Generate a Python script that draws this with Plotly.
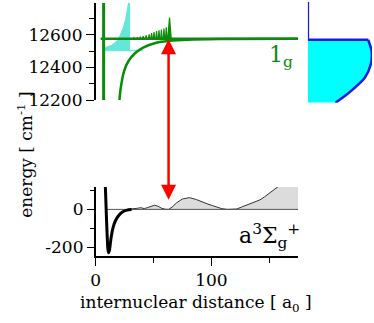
import plotly.graph_objects as go

# ---- data ----
# a3Sigma_g+ potential (bottom panel)
r_a3 = [8.3, 8.7, 9.1, 9.6, 10.0, 10.5, 11.1, 11.8, 12.5, 13.5, 15.0, 17.0, 19.5, 23.0, 27.0, 31.0]
E_a3 = [118, 50, -20, -100, -157, -210, -229, -215, -185, -140, -95, -60, -35, -14, -4, -1]

# grey filled curve (bottom panel)
r_bar = [28, 33, 36, 39, 42, 45, 48, 51, 54, 57, 60, 63, 66, 70, 75, 81, 87, 92, 97, 101,
         105, 109, 114, 118, 122, 126, 130, 134, 138, 142, 146, 150, 154, 158, 162, 175]
E_bar = [0, 2, 6, 9, 4, 10, 18, 22, 16, 6, 1, 0, 12, 35, 55, 62, 52, 39, 28, 20,
         11, 4, 0, 0, 2, 12, 22, 31, 39, 50, 66, 85, 105, 125, 150, 200]
bottom_ticks = [-200, 0]
bottom_labels = ["-200", "0"]

# 1g potential (top panel)
r_wall = [6.8, 6.8]
E_wall = [12150, 12850]
r_1g = [20.5, 21.7, 24.5, 28.2, 33.9, 41, 52.4, 63.8, 80, 110, 175]
E_1g = [12200, 12279, 12378, 12438, 12487, 12521, 12551, 12563, 12570, 12574, 12576]
E_level = 12576
r_level = [4.3, 175]

# green spikes sitting on the 1g level
r_peaks = [30, 33, 36, 38.5, 41, 43.6, 46.2, 48.3, 50.4, 52.6, 54.7, 56.8, 59, 61, 63.8]
E_peaks = [12580, 12582, 12585, 12588, 12592, 12597, 12603, 12610, 12616, 12622,
           12627, 12632, 12638, 12645, 12705]

# turquoise state
E_cyan = 12503
r_cyan_line = [6.8, 41]
r_cyan = [6.8, 8.2, 13.9, 18.2, 21.1, 23.9, 25.9, 27.6, 28.8, 29.7]
E_cyan_top = [12515, 12521, 12536, 12560, 12596, 12646, 12695, 12754, 12814, 12814]

# right-hand profile: step (vertical + horizontal) then the curved tail
step_x = [0, 0, 0.94]
step_E = [12850, 12570, 12570]
tail_x = [0.94, 0.995, 0.98, 0.89, 0.71, 0.56, 0.43]
tail_E = [12570, 12497, 12418, 12339, 12269, 12220, 12184]

arrow_r = 63
FONT = "DejaVu Serif"
GREEN = "#0a8c0a"
BLUE = "#1a1ae0"

W, H = 374, 323


def fx(p):
    return p / W


def fy(p):
    return 1 - p / H


fig = go.Figure()

# ---- bottom panel ----
fig.add_trace(go.Scatter(x=r_bar, y=E_bar, mode="lines", fill="tozeroy",
                         fillcolor="#dcdcdc", line=dict(color="#333333", width=1),
                         xaxis="x", yaxis="y"))
fig.add_trace(go.Scatter(x=[r_a3[0], 175], y=[0, 0], mode="lines",
                         line=dict(color="#555555", width=1), xaxis="x", yaxis="y"))
fig.add_trace(go.Scatter(x=r_a3, y=E_a3, mode="lines", line=dict(color="black", width=3, shape="spline"),
                         xaxis="x", yaxis="y"))

# ---- top panel ----
# turquoise filled state
fig.add_trace(go.Scatter(x=r_cyan, y=[E_cyan] * len(r_cyan), mode="lines",
                         line=dict(color="rgba(0,0,0,0)", width=0), xaxis="x2", yaxis="y2"))
fig.add_trace(go.Scatter(x=r_cyan, y=E_cyan_top, mode="lines", fill="tonexty",
                         fillcolor="rgba(64,224,208,0.8)", line=dict(color="#60e4d8", width=1),
                         xaxis="x2", yaxis="y2"))
fig.add_trace(go.Scatter(x=r_cyan_line, y=[E_cyan, E_cyan], mode="lines",
                         line=dict(color="#70e6dc", width=1.5), xaxis="x2", yaxis="y2"))

# spikes
sx, sy = [r_level[0]], [E_level]
for i, (r, e) in enumerate(zip(r_peaks, E_peaks)):
    w = 1.5 if i == len(r_peaks) - 1 else 0.6
    sx += [r - w, r, r + w]
    sy += [E_level, e, E_level]
sx.append(r_level[1])
sy.append(E_level)
fig.add_trace(go.Scatter(x=sx, y=sy, mode="lines", fill="toself", fillcolor=GREEN,
                         line=dict(color=GREEN, width=1.2), xaxis="x2", yaxis="y2"))
fig.add_trace(go.Scatter(x=r_level, y=[E_level, E_level], mode="lines",
                         line=dict(color=GREEN, width=2.5), xaxis="x2", yaxis="y2"))
fig.add_trace(go.Scatter(x=r_wall, y=E_wall, mode="lines",
                         line=dict(color=GREEN, width=3), xaxis="x2", yaxis="y2"))
fig.add_trace(go.Scatter(x=r_1g, y=E_1g, mode="lines",
                         line=dict(color=GREEN, width=2.5, shape="spline"), xaxis="x2", yaxis="y2"))

# ---- right profile ----
fig.add_trace(go.Scatter(x=step_x + tail_x[1:], y=step_E + tail_E[1:], mode="lines",
                         fill="tozerox", fillcolor="#00ffff", line=dict(width=0),
                         xaxis="x3", yaxis="y3"))
fig.add_trace(go.Scatter(x=step_x, y=step_E, mode="lines", line=dict(color=BLUE, width=2.5),
                         xaxis="x3", yaxis="y3"))
fig.add_trace(go.Scatter(x=tail_x, y=tail_E, mode="lines",
                         line=dict(color=BLUE, width=2.5, shape="spline", smoothing=0.8),
                         xaxis="x3", yaxis="y3"))

# ---- red double arrow ----
fig.add_annotation(x=arrow_r, y=51, xref="x", yref="y", ax=0, ay=-162,
                   axref="pixel", ayref="pixel", showarrow=True, text="",
                   arrowhead=2, startarrowhead=2, arrowside="end+start",
                   arrowsize=1.2, startarrowsize=1.2, arrowwidth=2.5, arrowcolor="red")

# ---- labels ----
fig.add_annotation(x=fx(20), y=fy(160), xref="paper", yref="paper", showarrow=False,
                   xanchor="center", yanchor="middle",
                   text="energy [ cm<sup>-1</sup> ]", textangle=-90,
                   font=dict(family=FONT, size=17, color="black"))
fig.add_annotation(x=fx(194), y=fy(313), xref="paper", yref="paper", showarrow=False,
                   xanchor="center", yanchor="middle",
                   text="internuclear distance [ a<sub>0</sub> ]",
                   font=dict(family=FONT, size=17, color="black"))
fig.add_annotation(x=fx(266), y=fy(58), xref="paper", yref="paper", showarrow=False,
                   xanchor="left", yanchor="middle", text="1<sub>g</sub>",
                   font=dict(family=FONT, size=22, color=GREEN))
fig.add_annotation(x=fx(235), y=fy(244), xref="paper", yref="paper", showarrow=False,
                   xanchor="left", yanchor="middle", text="a<sup>3</sup>Σ<sub>g</sub><sup>+</sup>",
                   font=dict(family=FONT, size=22, color="black"))

axis_common = dict(showgrid=False, zeroline=False, showline=True, linecolor="black",
                   linewidth=1.8, ticks="outside", tickcolor="black", tickwidth=1.2,
                   tickfont=dict(family=FONT, size=17, color="black"))

fig.update_layout(
    width=W, height=H, margin=dict(l=0, r=0, t=0, b=0),
    paper_bgcolor="white", plot_bgcolor="rgba(0,0,0,0)", showlegend=False,
    font=dict(family=FONT, size=17, color="black"),
    xaxis=dict(domain=[fx(92), fx(297)], range=[0, 175], anchor="y",
               tick0=0, dtick=100, ticklen=8, ticklabelstandoff=0,
               minor=dict(dtick=50, ticklen=5, tickcolor="black", tickwidth=1.2),
               **axis_common),
    yaxis=dict(domain=[fy(264), fy(193)], range=[-245, 118], anchor="x",
               tickmode="array", tickvals=bottom_ticks, ticktext=bottom_labels, ticklen=7,
               minor=dict(tickmode="array", tickvals=[-100, 100], ticklen=4,
                          tickcolor="black", tickwidth=1.2),
               **axis_common),
    xaxis2=dict(domain=[fx(92), fx(297)], range=[0, 175], anchor="y2", visible=False),
    yaxis2=dict(domain=[fy(103.3), fy(3)], range=[12200, 12795], anchor="x2",
                tick0=12200, dtick=200, ticklen=8, tickformat="d",
                minor=dict(dtick=100, ticklen=5, tickcolor="black", tickwidth=1.2),
                **axis_common),
    xaxis3=dict(domain=[fx(307), fx(372)], range=[0, 1], anchor="y3", visible=False),
    yaxis3=dict(domain=[fy(106), fy(2)], range=[12184, 12802], anchor="x3", visible=False),
)

fig.write_html("out.html", config={"displayModeBar": False},
               post_script="document.body.style.margin='0';document.body.style.overflow='hidden';")
